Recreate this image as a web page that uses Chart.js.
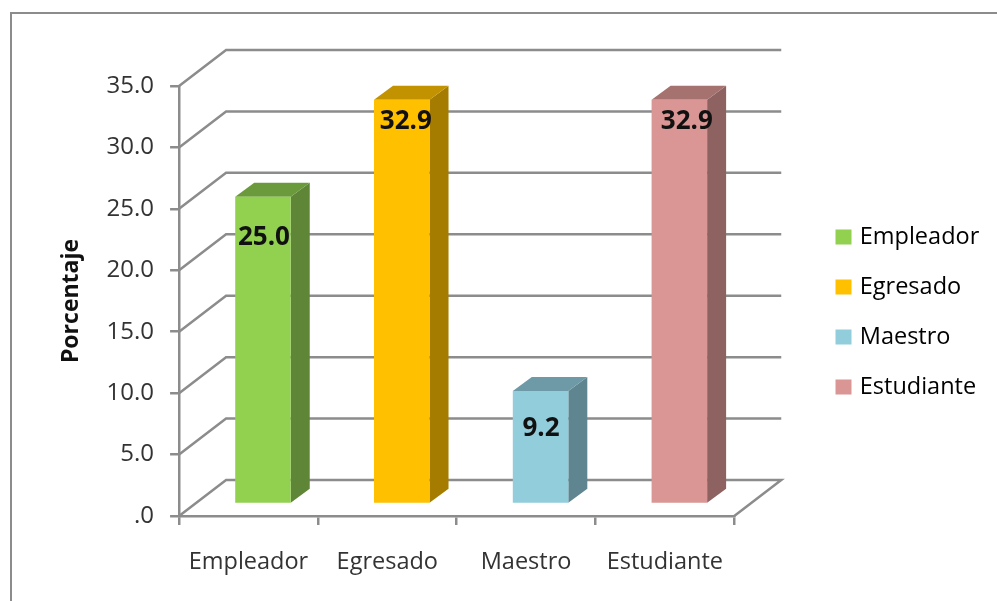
<!DOCTYPE html>
<html>
<head>
<meta charset="utf-8">
<style>
  html, body { margin: 0; padding: 0; background: #fff; overflow: hidden; }
  canvas { display: block; }
</style>
<script src="https://cdn.jsdelivr.net/npm/chart.js@4"></script>
</head>
<body>
<canvas id="chart" width="997" height="601"></canvas>
<script>
// datos
const categorias = ['Empleador', 'Egresado', 'Maestro', 'Estudiante'];
const porcentajes = [25.0, 32.9, 9.2, 32.9];
const tituloY = 'Porcentaje';

// colores de cada barra
const colorFrente = ['#92d050', '#ffc000', '#92cddc', '#d99694'];
const colorLado = ['#5f8537', '#a67c00', '#5f8690', '#8d6260'];
const colorTapa = ['#6b9a3c', '#c29200', '#6d9aa6', '#a57270'];

const gris = '#8c8c8c';
const fuente = '"Open Sans", sans-serif';

// desplazamientos de la perspectiva
const fondo = { dx: 47, dy: -36 };
const frente = { dx: 14.5, dy: -12 };
const prof = { dx: 19, dy: -14 };
// ajuste de cada etiqueta respecto a la parte alta de la barra
const ajusteEtiqueta = [[1, 41], [4, 22], [0.5, 38], [7.5, 22]];

function poligono(ctx, puntos, color) {
    ctx.fillStyle = color;
    ctx.beginPath();
    puntos.forEach((p, i) => i ? ctx.lineTo(p[0], p[1]) : ctx.moveTo(p[0], p[1]));
    ctx.closePath();
    ctx.fill();
}

const efecto3d = {
    id: 'efecto3d',
    beforeDraw(chart) {
        const ctx = chart.ctx;
        // marco del grafico
        ctx.save();
        ctx.strokeStyle = gris;
        ctx.lineWidth = 2;
        ctx.beginPath();
        ctx.moveTo(11, 601);
        ctx.lineTo(11, 13);
        ctx.lineTo(997, 13);
        ctx.stroke();
        ctx.restore();
    },
    beforeDatasetsDraw(chart) {
        const ctx = chart.ctx;
        const { left, right } = chart.chartArea;
        const y = chart.scales.y;
        ctx.save();
        ctx.strokeStyle = gris;
        ctx.lineWidth = 2.5;
        // lineas de pared y piso
        y.ticks.forEach(t => {
            const py = y.getPixelForValue(t.value);
            ctx.beginPath();
            ctx.moveTo(left, py);
            ctx.lineTo(left + fondo.dx, py + fondo.dy);
            ctx.lineTo(right + fondo.dx, py + fondo.dy);
            if (t.value === 0) ctx.lineTo(right, py);
            ctx.stroke();
        });
        ctx.restore();
    },
    beforeDatasetDraw(chart) {
        const ctx = chart.ctx;
        ctx.save();
        ctx.translate(frente.dx, frente.dy);
        chart.getDatasetMeta(0).data.forEach((b, i) => {
            const l = b.x - b.width / 2, r = b.x + b.width / 2;
            poligono(ctx, [[r, b.y], [r + prof.dx, b.y + prof.dy], [r + prof.dx, b.base + prof.dy], [r, b.base]], colorLado[i]);
            poligono(ctx, [[l, b.y], [l + prof.dx, b.y + prof.dy], [r + prof.dx, b.y + prof.dy], [r, b.y]], colorTapa[i]);
        });
    },
    afterDatasetDraw(chart) {
        const ctx = chart.ctx;
        ctx.restore();
        // etiquetas de valor
        ctx.save();
        ctx.font = 'bold 26px ' + fuente;
        ctx.fillStyle = '#111';
        ctx.textAlign = 'center';
        ctx.textBaseline = 'middle';
        chart.getDatasetMeta(0).data.forEach((b, i) => {
            ctx.fillText(porcentajes[i].toFixed(1), b.x + frente.dx + ajusteEtiqueta[i][0], b.y + frente.dy + ajusteEtiqueta[i][1]);
        });
        ctx.restore();
    },
    afterLayout(chart) {
        // la leyenda queda separada del area de trazado
        chart.legend.left = 812.5;
        chart.legend.right = 997;
        chart.legend.width = 184.5;
        chart.legend.top = 0;
        chart.legend.bottom = 624;
    }
};

new Chart(document.getElementById('chart'), {
    type: 'bar',
    data: {
        labels: categorias,
        datasets: [{
            data: porcentajes,
            backgroundColor: colorFrente,
            barPercentage: 0.4,
            categoryPercentage: 1
        }]
    },
    options: {
        responsive: false,
        animation: false,
        layout: { padding: { left: 58, top: 86, right: 86, bottom: 0 } },
        plugins: {
            tooltip: { enabled: false },
            legend: {
                position: 'right',
                labels: {
                    boxWidth: 9,
                    boxHeight: 8,
                    padding: 26.5,
                    color: '#333',
                    font: { family: fuente, size: 23.5 },
                    generateLabels: () => categorias.map((c, i) => ({
                        text: c, fillStyle: colorFrente[i], strokeStyle: colorFrente[i], lineWidth: 7, index: i
                    }))
                }
            }
        },
        scales: {
            x: {
                afterFit: s => { s.height = 85; },
                grid: { drawOnChartArea: false, color: gris, lineWidth: 2.5, tickLength: 9 },
                border: { color: gris, width: 2.5 },
                ticks: { color: '#333', padding: 23, maxRotation: 0, font: { family: fuente, size: 23.5 } }
            },
            y: {
                min: 0,
                max: 35,
                grid: { drawOnChartArea: false, color: gris, lineWidth: 2.5, tickLength: 9 },
                border: { color: gris, width: 2.5 },
                title: { display: true, text: tituloY, color: '#111', padding: { top: 0, bottom: 5 }, font: { family: fuente, size: 23, weight: 'bold' } },
                ticks: {
                    stepSize: 5,
                    padding: 16,
                    color: '#333',
                    font: { family: fuente, size: 24 },
                    callback: v => v === 0 ? '.0' : v.toFixed(1)
                }
            }
        }
    },
    plugins: [efecto3d]
});
</script>
</body>
</html>
